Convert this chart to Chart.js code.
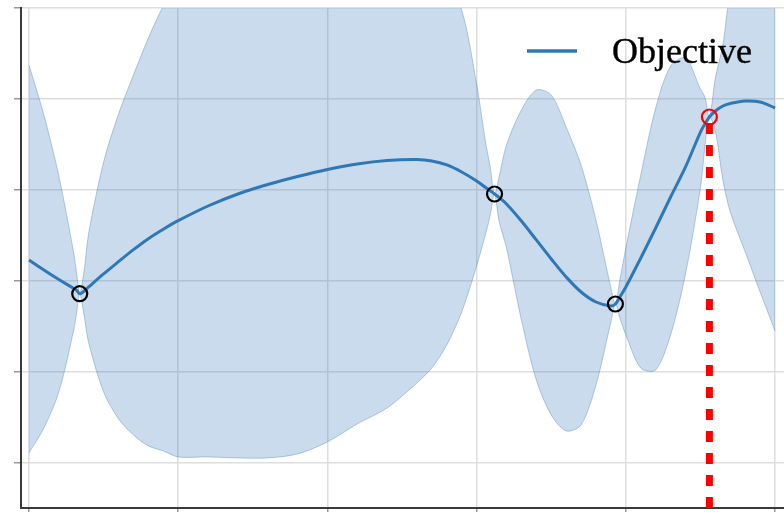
<!DOCTYPE html>
<html>
<head>
<meta charset="utf-8">
<script src="https://cdn.jsdelivr.net/npm/chart.js@4.4.0/dist/chart.umd.min.js"></script>
<style>
  html, body { margin: 0; padding: 0; background: #ffffff; overflow: hidden; }
  #wrap { width: 784px; height: 512px; }
</style>
</head>
<body>
<div id="wrap"><canvas id="c" width="784" height="512"></canvas></div>
<script>
// Sample locations along the input axis
const xs = [0, 0.1, 0.2, 0.3, 0.32, 0.34, 0.37, 0.4, 0.5, 0.6, 0.7, 0.8, 0.9, 1.0,
  1.2, 1.4, 1.6, 1.8, 2.0, 2.2, 2.4, 2.6, 2.7, 2.8, 2.9, 3.0, 3.06, 3.09, 3.12, 3.15,
  3.2, 3.3, 3.4, 3.5, 3.6, 3.7, 3.8, 3.9, 3.93, 3.96, 4.0, 4.1, 4.2, 4.3, 4.4, 4.5,
  4.53, 4.56, 4.6, 4.65, 4.7, 4.8, 4.9, 5.0];

// Posterior mean of the surrogate
const meanVals = [0.231, 0.121, 0.016, -0.082, -0.104, -0.14, -0.11, -0.066, 0.077, 0.212,
  0.344, 0.465, 0.569, 0.663, 0.824, 0.956, 1.06, 1.148, 1.225, 1.286, 1.324, 1.335, 1.319,
  1.275, 1.198, 1.099, 1.027, 0.995, 0.956, 0.918, 0.846, 0.659, 0.451, 0.242, 0.044, -0.121,
  -0.231, -0.275, -0.253, -0.176, -0.066, 0.253, 0.582, 0.923, 1.253, 1.637, 1.725, 1.802,
  1.868, 1.923, 1.951, 1.978, 1.967, 1.901];

// Upper edge of the confidence band
const upperVals = [2.374, 1.824, 1.154, 0.308, 0.077, -0.14, 0.121, 0.527, 1.308, 1.835,
  2.264, 2.67, 3.022, 3.275, 3.582, 3.857, 4.077, 4.209, 4.209, 4.121, 4.033, 3.802, 3.593,
  3.253, 2.978, 2.165, 1.527, 1.264, 0.956, 1.143, 1.495, 1.879, 2.099, 2.044, 1.692, 1.275,
  0.67, -0.077, -0.253, 0.011, 0.363, 1.165, 1.901, 2.363, 2.451, 2.11, 2.022, 1.802,
  2.231, 2.593, 3.143, 3.538, 3.956, 4.363];

// Lower edge of the confidence band
const lowerVals = [-1.89, -1.615, -1.22, -0.538, -0.341, -0.14, -0.385, -0.681, -1.22, -1.516,
  -1.692, -1.813, -1.868, -1.934, -1.934, -1.945, -1.945, -1.901, -1.769, -1.571, -1.396,
  -1.121, -0.956, -0.703, -0.341, 0.165, 0.516, 0.714, 0.956, 0.659, 0.363, -0.429, -1.088,
  -1.473, -1.648, -1.582, -1.143, -0.451, -0.253, -0.407, -0.593, -0.956, -0.978, -0.593,
  0.077, 1.022, 1.473, 1.802, 1.648, 1.11, 0.758, 0.319, -0.121, -0.549];

// Evaluated points and the proposed next point
const observedX = [0.34, 3.12, 3.93];
const observedY = [-0.14, 0.956, -0.253];
const nextX = [4.56];
const nextY = [1.802];

// Axis ticks (unlabelled) and limits
const xTicks = [0, 1, 2, 3, 4, 5];
const yTicks = [-2, -1, 0, 1, 2, 3];
const xRange = [-0.0536, 5.06];
const yRange = [-2.495, 3.0];

const seriesLabel = 'Objective';

const lineColor = '#2e78b6';
const bandFill = 'rgba(40,110,180,0.25)';
const bandEdge = 'rgba(40,110,180,0.32)';

const pts = (xArr, yArr) => xArr.map((x, i) => ({ x: x, y: yArr[i] }));

// Legend entry drawn in the upper-right corner of the plot area
const legendPlugin = {
  id: 'objectiveLegend',
  afterDraw(chart) {
    const ctx = chart.ctx;
    const a = chart.chartArea;
    const ds = chart.data.datasets[2];
    ctx.save();
    ctx.strokeStyle = ds.borderColor;
    ctx.lineWidth = 3.5;
    ctx.lineCap = 'butt';
    const ly = a.top + 43;
    ctx.beginPath();
    ctx.moveTo(a.right - 257, ly);
    ctx.lineTo(a.right - 207, ly);
    ctx.stroke();
    ctx.font = '36px "Liberation Serif"';
    ctx.fillStyle = '#000000';
    ctx.strokeStyle = '#000000';
    ctx.lineWidth = 0.4;
    ctx.textBaseline = 'alphabetic';
    ctx.textAlign = 'left';
    ctx.fillText(ds.label, a.right - 172, a.top + 55);
    ctx.strokeText(ds.label, a.right - 172, a.top + 55);
    ctx.restore();
  }
};

const axisCommon = {
  type: 'linear',
  ticks: { display: false, includeBounds: false },
  grid: { color: '#dedede', lineWidth: 1.5, drawTicks: true, tickColor: '#999999', tickWidth: 1.5 },
  border: { display: true, color: '#3a3a3a', width: 2 }
};

new Chart(document.getElementById('c'), {
  type: 'line',
  data: {
    datasets: [
      {
        label: 'upper',
        data: pts(xs, upperVals),
        fill: '+1',
        backgroundColor: bandFill,
        borderColor: bandEdge,
        borderWidth: 1,
        pointRadius: 0,
        tension: 0.3,
        order: 10
      },
      {
        label: 'lower',
        data: pts(xs, lowerVals),
        fill: false,
        borderColor: bandEdge,
        borderWidth: 1,
        pointRadius: 0,
        tension: 0.3,
        order: 9
      },
      {
        label: seriesLabel,
        data: pts(xs, meanVals),
        fill: false,
        borderColor: lineColor,
        borderWidth: 3,
        pointRadius: 0,
        tension: 0.35,
        order: 5
      },
      {
        label: 'next',
        data: [{ x: nextX[0], y: yRange[0] }, { x: nextX[0], y: nextY[0] }],
        fill: false,
        borderColor: '#ff0000',
        borderWidth: 7,
        borderDash: [11, 11],
        tension: 0,
        pointRadius: 0,
        order: 3
      },
      {
        label: 'observed',
        data: pts(observedX, observedY),
        showLine: false,
        pointRadius: 7.5,
        pointBorderWidth: 2.2,
        pointBorderColor: '#000000',
        pointBackgroundColor: 'rgba(0,0,0,0)',
        order: 1
      },
      {
        label: 'candidate',
        data: pts(nextX, nextY),
        showLine: false,
        pointRadius: 7.5,
        pointBorderWidth: 2.2,
        pointBorderColor: '#ff0000',
        pointBackgroundColor: 'rgba(0,0,0,0)',
        order: 0
      }
    ]
  },
  options: {
    responsive: false,
    animation: false,
    events: [],
    devicePixelRatio: 1,
    layout: { autoPadding: false, padding: { left: 14, top: 8, right: 0, bottom: 0 } },
    plugins: { legend: { display: false }, tooltip: { enabled: false } },
    scales: {
      x: Object.assign({}, axisCommon, {
        min: xRange[0], max: xRange[1],
        grid: Object.assign({}, axisCommon.grid, { tickLength: 4 }),
        afterBuildTicks: (s) => { s.ticks = xTicks.map(v => ({ value: v })); }
      }),
      y: Object.assign({}, axisCommon, {
        min: yRange[0], max: yRange[1],
        grid: Object.assign({}, axisCommon.grid, { tickLength: 7 }),
        afterBuildTicks: (s) => { s.ticks = yTicks.map(v => ({ value: v })); }
      })
    }
  },
  plugins: [legendPlugin]
});
</script>
</body>
</html>
